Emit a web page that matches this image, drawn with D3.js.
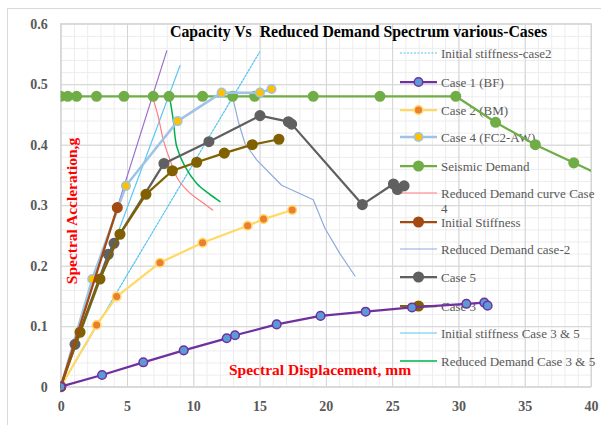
<!DOCTYPE html>
<html>
<head>
<meta charset="utf-8">
<script src="https://cdn.jsdelivr.net/npm/d3@7/dist/d3.min.js"></script>
<style>
  html, body { margin: 0; padding: 0; background: #fff; }
  svg { display: block; }
  text { font-family: "Liberation Serif", "Times New Roman", serif; }
</style>
</head>
<body>
<svg id="chart" width="601" height="425"></svg>
<script>
// ---- data (Sd in mm, Sa in g) ----
const seismicX = [0, 0.53, 1.2, 2.7, 4.77, 6.98, 8.17, 10.7, 12.97, 14.63, 19.05, 24.08, 29.8, 32.8, 35.8, 38.7, 41.6];
const seismicY = [0.48, 0.48, 0.48, 0.48, 0.48, 0.48, 0.48, 0.48, 0.48, 0.48, 0.48, 0.48, 0.48, 0.437, 0.40, 0.37, 0.341];

const case1X = [0, 3.12, 6.23, 9.28, 12.52, 13.15, 16.29, 19.6, 23.0, 26.5, 30.6, 31.95, 32.2];
const case1Y = [0, 0.0193, 0.0403, 0.060, 0.080, 0.085, 0.103, 0.117, 0.124, 0.131, 0.137, 0.139, 0.134];

const case2X = [0, 2.71, 4.22, 7.49, 10.7, 14.1, 15.3, 17.46];
const case2Y = [0, 0.102, 0.149, 0.205, 0.238, 0.266, 0.277, 0.292];

const case4X = [0, 2.38, 4.92, 8.82, 12.14, 15.03, 15.9];
const case4Y = [0, 0.178, 0.332, 0.439, 0.486, 0.486, 0.492];

const case5X = [0, 1.08, 3.59, 4.02, 7.79, 11.18, 15.03, 17.17, 17.42, 22.75, 25.1, 25.4, 25.9];
const case5Y = [0, 0.070, 0.219, 0.237, 0.369, 0.405, 0.448, 0.438, 0.434, 0.301, 0.335, 0.326, 0.332];

const case3X = [0, 1.46, 2.96, 4.47, 6.43, 8.42, 10.26, 12.34, 14.45, 16.46];
const case3Y = [0, 0.090, 0.178, 0.252, 0.318, 0.357, 0.371, 0.386, 0.400, 0.409];

const initStiffX = [0, 4.27];
const initStiffY = [0, 0.296];

const initCase2X = [0, 15.0];
const initCase2Y = [0, 0.553];

const initCase35X = [0, 9.0];
const initCase35Y = [0, 0.531];

const initCase1X = [0, 8.0];
const initCase1Y = [0, 0.555];

const redCase4X = [6.93, 7.36, 7.74, 8.24, 8.87, 9.75, 10.6, 11.46];
const redCase4Y = [0.479, 0.446, 0.408, 0.375, 0.342, 0.320, 0.306, 0.292];

const redCase35X = [8.19, 8.49, 8.75, 9.37, 10.26, 11.13, 12.01];
const redCase35Y = [0.482, 0.441, 0.397, 0.364, 0.336, 0.320, 0.306];

const redCase2X = [12.9, 13.4, 13.9, 14.78, 16.66, 19.05, 19.93, 21.06, 22.2];
const redCase2Y = [0.485, 0.438, 0.402, 0.375, 0.333, 0.309, 0.262, 0.220, 0.183];

const xTicks = [0, 5, 10, 15, 20, 25, 30, 35, 40];
const yTicks = [0, 0.1, 0.2, 0.3, 0.4, 0.5, 0.6];

const legendLabels = [
  "Initial stiffness-case2", "Case 1 (BF)", "Case 2 (BM)", "Case 4 (FC2-AW)",
  "Seismic Demand", "Reduced Demand curve Case 4", "Initial Stiffness",
  "Reduced Demand case-2", "Case 5", "Case 3", "Initial stiffness Case 3 & 5",
  "Reduced Demand Case 3 & 5"
];

// ---- styles ----
const styles = {
  "Initial stiffness-case2":     { stroke: "#4FC3EE", width: 1.2, dash: "2,1.5" },
  "Case 1 (BF)":                 { stroke: "#7030A0", width: 2.25, fill: "#5B9BD5", mstroke: "#7030A0", r: 4.3 },
  "Case 2 (BM)":                 { stroke: "#FFD966", width: 2.25, fill: "#ED7D31", mstroke: "#FFD966", r: 4.3 },
  "Case 4 (FC2-AW)":             { stroke: "#9DC3E6", width: 2.5, fill: "#FFC000", mstroke: "#9DC3E6", r: 4.3 },
  "Seismic Demand":              { stroke: "#70AD47", width: 2.25, fill: "#70AD47", mstroke: "#70AD47", r: 4.8 },
  "Reduced Demand curve Case 4": { stroke: "#FF7C80", width: 1.2 },
  "Initial Stiffness":           { stroke: "#A34A12", width: 2.25, fill: "#A34A12", mstroke: "#A34A12", r: 4.8 },
  "Reduced Demand case-2":       { stroke: "#8FAADC", width: 1.2 },
  "Case 5":                      { stroke: "#606060", width: 2.25, fill: "#606060", mstroke: "#606060", r: 4.8 },
  "Case 3":                      { stroke: "#806000", width: 2.25, fill: "#806000", mstroke: "#806000", r: 4.8 },
  "Initial stiffness Case 3 & 5":{ stroke: "#5CC8F2", width: 1.2 },
  "Reduced Demand Case 3 & 5":   { stroke: "#00B050", width: 1.5 },
  "stiffness case 1":            { stroke: "#9B6FCB", width: 1.2 }
};

const svg = d3.select("#chart");
const plot = { left: 60.7, right: 591, top: 23.7, bottom: 386.7 };

const x = d3.scaleLinear().domain([0, 40]).range([plot.left, plot.right]);
const y = d3.scaleLinear().domain([0, 0.6]).range([plot.bottom, plot.top]);

// chart frame
svg.append("rect").attr("x", 7.5).attr("y", 8.5).attr("width", 620).attr("height", 440)
  .attr("fill", "#fff").attr("stroke", "#D9D9D9").attr("stroke-width", 1);

// minor grid
const gMinor = svg.append("g");
gMinor.append("g")
  .attr("transform", `translate(0,${plot.bottom})`)
  .call(d3.axisBottom(x).tickValues(d3.range(0, 41, 1)).tickSize(-(plot.bottom - plot.top)).tickFormat(""))
  .call(g => g.select(".domain").remove())
  .call(g => g.selectAll("line").attr("stroke", "#EDEDED").attr("stroke-width", 1));
gMinor.append("g")
  .attr("transform", `translate(${plot.left},0)`)
  .call(d3.axisLeft(y).tickValues(d3.range(0, 31).map(i => i * 0.02)).tickSize(-(plot.right - plot.left)).tickFormat(""))
  .call(g => g.select(".domain").remove())
  .call(g => g.selectAll("line").attr("stroke", "#EDEDED").attr("stroke-width", 1));

// major grid + tick labels
const xAxis = svg.append("g")
  .attr("transform", `translate(0,${plot.bottom})`)
  .call(d3.axisBottom(x).tickValues(xTicks).tickSize(-(plot.bottom - plot.top)).tickPadding(12).tickFormat(d3.format("d")));
xAxis.select(".domain").remove();
xAxis.selectAll("line").attr("stroke", "#D4D4D4").attr("stroke-width", 1);
xAxis.selectAll("text").attr("fill", "#595959").attr("font-size", 14).attr("font-weight", "bold")
  .attr("font-family", "Liberation Serif, serif").attr("dy", "0.9em");

const yAxis = svg.append("g")
  .attr("transform", `translate(${plot.left},0)`)
  .call(d3.axisLeft(y).tickValues(yTicks).tickSize(-(plot.right - plot.left)).tickPadding(13).tickFormat(d => d === 0 ? "0" : d3.format(".1f")(d)));
yAxis.select(".domain").remove();
yAxis.selectAll("line").attr("stroke", "#D4D4D4").attr("stroke-width", 1);
yAxis.selectAll("text").attr("fill", "#595959").attr("font-size", 14).attr("font-weight", "bold")
  .attr("font-family", "Liberation Serif, serif");

// plot border
svg.append("rect").attr("x", plot.left).attr("y", plot.top)
  .attr("width", plot.right - plot.left).attr("height", plot.bottom - plot.top)
  .attr("fill", "none").attr("stroke", "#D4D4D4");

// title
svg.append("text").attr("x", 170).attr("y", 37).attr("font-size", 15.8).attr("font-weight", "bold")
  .attr("fill", "#000").style("white-space", "pre")
  .text("Capacity Vs  Reduced Demand Spectrum various-Cases");

// axis titles
svg.append("text").attr("x", 229).attr("y", 375).attr("font-size", 15.5).attr("font-weight", "bold")
  .attr("fill", "#FF0000").text("Spectral Displacement, mm");
svg.append("text").attr("transform", "translate(77,211) rotate(-90)").attr("text-anchor", "middle")
  .attr("font-size", 15.5).attr("font-weight", "bold").attr("fill", "#FF0000")
  .text("Spectral Accleration,g");

// legend
const legend = svg.append("g");
const legendY = [53, 82, 110, 137, 166, 193, 222, 249, 277, 306, 333, 361];
legendLabels.forEach((name, i) => {
  const s = styles[name];
  const ly = legendY[i];
  legend.append("line").attr("x1", 400).attr("x2", 437).attr("y1", ly).attr("y2", ly)
    .attr("stroke", s.stroke).attr("stroke-width", s.width).attr("stroke-dasharray", s.dash || null);
  if (s.r) {
    legend.append("circle").attr("cx", 418.5).attr("cy", ly).attr("r", s.r)
      .attr("fill", s.fill).attr("stroke", s.mstroke).attr("stroke-width", 1.5);
  }
  const t = legend.append("text").attr("x", 441).attr("y", ly + 4.5).attr("font-size", 13)
    .attr("fill", "#595959");
  if (name === "Reduced Demand curve Case 4") {
    t.text("Reduced Demand curve Case");
    legend.append("text").attr("x", 441).attr("y", ly + 19.5).attr("font-size", 13)
      .attr("fill", "#595959").text("4");
  } else {
    t.text(name);
  }
});

// series
svg.append("clipPath").attr("id", "plotClip").append("rect")
  .attr("x", plot.left).attr("y", plot.top - 10)
  .attr("width", plot.right - plot.left).attr("height", plot.bottom - plot.top + 20);
const gs = svg.append("g").attr("clip-path", "url(#plotClip)");

function drawSeries(xs, ys, name, curve) {
  const s = styles[name];
  const pts = xs.map((v, i) => [v, ys[i]]);
  const line = d3.line().x(d => x(d[0])).y(d => y(d[1])).curve(curve || d3.curveLinear);
  gs.append("path").datum(pts).attr("d", line).attr("fill", "none")
    .attr("stroke", s.stroke).attr("stroke-width", s.width)
    .attr("stroke-linejoin", "round").attr("stroke-linecap", "round")
    .attr("stroke-dasharray", s.dash || null);
  if (s.r) {
    gs.append("g").selectAll("circle").data(pts).join("circle")
      .attr("cx", d => x(d[0])).attr("cy", d => y(d[1])).attr("r", s.r)
      .attr("fill", s.fill).attr("stroke", s.mstroke).attr("stroke-width", 1.5);
  }
}

drawSeries(initCase1X, initCase1Y, "stiffness case 1");
drawSeries(initCase2X, initCase2Y, "Initial stiffness-case2");
drawSeries(initCase35X, initCase35Y, "Initial stiffness Case 3 & 5");
drawSeries(redCase4X, redCase4Y, "Reduced Demand curve Case 4", d3.curveCatmullRom);
drawSeries(redCase2X, redCase2Y, "Reduced Demand case-2");
drawSeries(redCase35X, redCase35Y, "Reduced Demand Case 3 & 5", d3.curveCatmullRom);
drawSeries(seismicX, seismicY, "Seismic Demand");
drawSeries(case2X, case2Y, "Case 2 (BM)");
drawSeries(case4X, case4Y, "Case 4 (FC2-AW)");
drawSeries(case5X, case5Y, "Case 5");
drawSeries(case3X, case3Y, "Case 3");
drawSeries(initStiffX, initStiffY, "Initial Stiffness");
drawSeries(case1X, case1Y, "Case 1 (BF)");
</script>
</body>
</html>
